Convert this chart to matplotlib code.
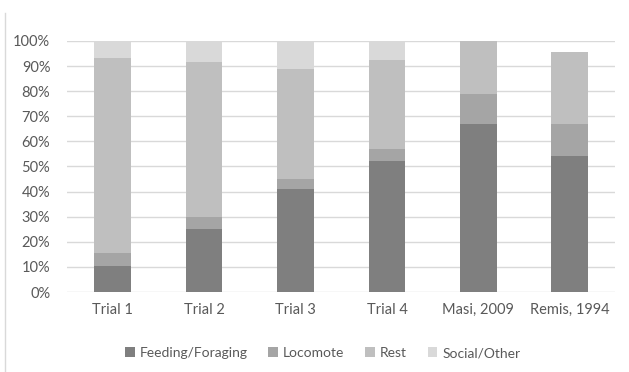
import matplotlib.pyplot as plt
import numpy as np
from matplotlib.ticker import PercentFormatter

plt.rcParams['font.family'] = ['Lato', 'DejaVu Sans']

categories = ['Trial 1', 'Trial 2', 'Trial 3', 'Trial 4', 'Masi, 2009', 'Remis, 1994']
feeding = [10.5, 25, 41, 52, 67, 54]
locomote = [5, 5, 4, 5, 12, 13]
rest = [77.5, 61.5, 44, 35.5, 21, 28.5]
social = [7, 8.5, 11, 7.5, 0, 0]

series = [('Feeding/Foraging', feeding, '#7f7f7f'),
          ('Locomote', locomote, '#a5a5a5'),
          ('Rest', rest, '#bfbfbf'),
          ('Social/Other', social, '#d9d9d9')]

fig = plt.figure(figsize=(6.29, 3.72), dpi=100)
ax = fig.add_axes([0.1065, 0.215, 0.872, 0.675])

x = np.arange(len(categories))
bottom = np.zeros(len(categories))
for name, vals, col in series:
    ax.bar(x, vals, 0.4, bottom=bottom, color=col, label=name, zorder=2)
    bottom += np.array(vals)

ax.set_xlim(-0.5, len(categories) - 0.5)
ax.set_ylim(0, 100)
ax.set_yticks(np.arange(0, 101, 10))
ax.yaxis.set_major_formatter(PercentFormatter(decimals=0))
ax.set_xticks(x)
ax.set_xticklabels(categories)
ax.grid(axis='y', color='#d9d9d9', linewidth=1, zorder=0)
for s in ax.spines.values():
    s.set_visible(False)
ax.tick_params(length=0, labelsize=10.5, colors='#595959', pad=8)
ax.tick_params(axis='y', pad=12)

ax.legend(loc='upper center', bbox_to_anchor=(0.466, -0.17), ncol=4, frameon=False,
          fontsize=10, labelcolor='#595959', handlelength=0.7, handleheight=0.7,
          handletextpad=0.35, columnspacing=1.5)

# faint chart-area border on the left
fig.add_artist(plt.Line2D([0.008, 0.008], [0, 0.965], color='#d9d9d9', lw=1))

plt.savefig('out.png', dpi=100)
